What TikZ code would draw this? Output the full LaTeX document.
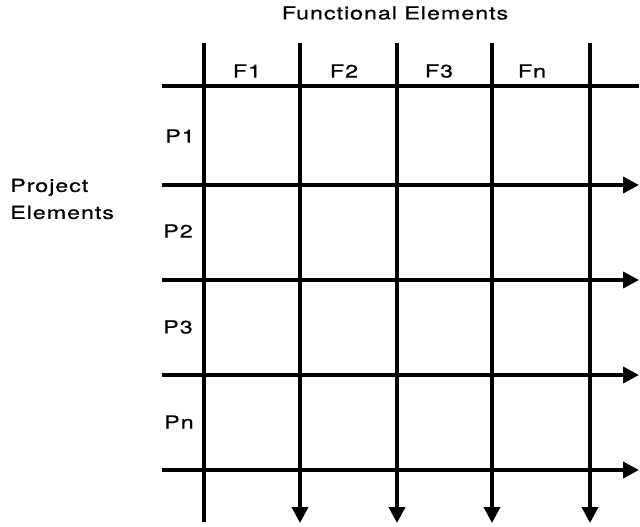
\documentclass[tikz,border=0pt]{standalone}
\usepackage{fontspec}
\setmainfont{TeX Gyre Heros}[FakeStretch=1.3,LetterSpace=5,FakeBold=0.6]
\usetikzlibrary{arrows.meta, positioning}
\tikzset{
  gridline/.style={line width=3.8pt, draw=black},
  flowline/.style={gridline, -{Triangle[length=16pt, width=16pt]}},
  heading/.style={font=\fontsize{18}{27}\selectfont, align=left, inner sep=0pt},
  cell/.style={font=\fontsize{18}{19}\selectfont, inner sep=0pt},
}
\begin{document}
\begin{tikzpicture}[x=1pt, y=-1pt]
  \useasboundingbox (0,0) rectangle (640,527);

  % headings
  \node[heading] (func) at (395,13) {Functional Elements};
  \node[heading, anchor=west] (proj) at (10,199) {Project\\Elements};

  % column labels
  \node[cell] (f1) at (247,71) {F1};
  \node[cell] (f2) at (344,71) {F2};
  \node[cell] (f3) at (439,71) {F3};
  \node[cell] (fn) at (532,71) {Fn};

  % row labels
  \node[cell] (p1) at (180,136) {P1};
  \node[cell] (p2) at (178,231) {P2};
  \node[cell] (p3) at (178,327) {P3};
  \node[cell] (pn) at (179,422) {Pn};

  % end points of the grid lines
  \coordinate (v0top) at (204,43);  \coordinate (v0bot) at (204,522);
  \coordinate (v1top) at (300,43);  \coordinate (v1bot) at (300,523);
  \coordinate (v2top) at (397,43);  \coordinate (v2bot) at (397,523);
  \coordinate (v3top) at (492,43);  \coordinate (v3bot) at (492,523);
  \coordinate (v4top) at (590,43);  \coordinate (v4bot) at (590,523);
  \coordinate (h0left) at (162,86);  \coordinate (h0right) at (639,86);
  \coordinate (h1left) at (162,185); \coordinate (h1right) at (639,185);
  \coordinate (h2left) at (162,280); \coordinate (h2right) at (639,280);
  \coordinate (h3left) at (162,375); \coordinate (h3right) at (639,375);
  \coordinate (h4left) at (162,470); \coordinate (h4right) at (639,470);

  \draw[gridline] (v0top) -- (v0bot);
  \draw[flowline] (v1top) -- (v1bot);
  \draw[flowline] (v2top) -- (v2bot);
  \draw[flowline] (v3top) -- (v3bot);
  \draw[flowline] (v4top) -- (v4bot);

  \draw[gridline] (h0left) -- (h0right);
  \draw[flowline] (h1left) -- (h1right);
  \draw[flowline] (h2left) -- (h2right);
  \draw[flowline] (h3left) -- (h3right);
  \draw[flowline] (h4left) -- (h4right);

\end{tikzpicture}
\end{document}
